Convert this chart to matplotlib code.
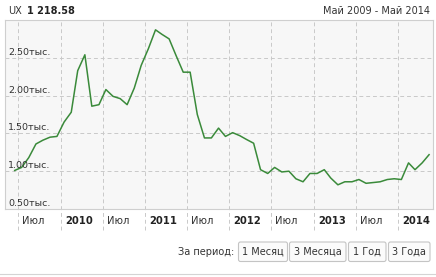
import datetime

import numpy as np
import matplotlib
matplotlib.use('Agg')
import matplotlib.pyplot as plt
import matplotlib.dates as mdates
from matplotlib.patches import FancyBboxPatch

# monthly closes, Jun 2009 .. May 2014 (points)
months = [datetime.date(2009 + (5 + i) // 12, (5 + i) % 12 + 1, 15) for i in range(60)]
closes = [1010, 1050, 1180, 1360, 1410, 1450, 1460, 1650, 1780, 2330,
          2540, 1860, 1880, 2080, 1990, 1960, 1880, 2100, 2400, 2620,
          2870, 2810, 2750, 2530, 2310, 2310, 1750, 1440, 1440, 1570,
          1460, 1510, 1470, 1420, 1370, 1020, 970, 1050, 990, 1000,
          900, 860, 970, 970, 1020, 910, 820, 860, 860, 890,
          840, 850, 860, 890, 900, 890, 1110, 1020, 1110, 1218.58]
y_ticks = [500, 1000, 1500, 2000, 2500]
x_ticks = [datetime.date(2009, 7, 1), datetime.date(2010, 1, 1), datetime.date(2010, 7, 1),
           datetime.date(2011, 1, 1), datetime.date(2011, 7, 1), datetime.date(2012, 1, 1),
           datetime.date(2012, 7, 1), datetime.date(2013, 1, 1), datetime.date(2013, 7, 1),
           datetime.date(2014, 1, 1)]
x_labels = ['Июл', '2010', 'Июл', '2011', 'Июл', '2012', 'Июл', '2013', 'Июл', '2014']
periods = ['1 Месяц', '3 Месяца', '1 Год', '3 Года']

W, H = 436, 277
txt = '#333333'
grid_c = '#c9c9c9'

fig = plt.figure(figsize=(W / 100, H / 100), dpi=100)
fig.patch.set_facecolor('white')

# main chart, pixel box 5..433 x 20..209
ax = fig.add_axes([5 / W, (H - 209) / H, 428 / W, 189 / H])
ax.set_facecolor('#f7f7f7')
ax.plot(months, [c / 1000 for c in closes], color='#3a8a3a', lw=1.1, zorder=3)
ax.set_ylim(0.5, 3.0)
ax.set_xlim(datetime.date(2009, 5, 4), datetime.date(2014, 6, 1))
ax.set_xticks([])
ax.set_yticks([])
for s in ax.spines.values():
    s.set_color('#cfcfcf')
    s.set_linewidth(0.8)

for v in y_ticks:
    if v > 500:
        ax.axhline(v / 1000, color=grid_c, lw=0.7, ls=(0, (4, 3)), zorder=1)
    ax.annotate('%.2fтыс.' % (v / 1000), xy=(0, v / 1000), xycoords=('axes fraction', 'data'),
                xytext=(3, 5.5), textcoords='offset pixels', ha='left', va='center',
                fontsize=6.8, color=txt, zorder=4)

for d, lab in zip(x_ticks, x_labels):
    ax.axvline(d, ymin=-0.112, ymax=1, color=grid_c, lw=0.7, ls=(0, (4, 3)),
               clip_on=False, zorder=1)
    bold = lab != 'Июл'
    ax.annotate(lab, xy=(d, 0), xycoords=('data', 'axes fraction'),
                xytext=(4, -12), textcoords='offset pixels', ha='left', va='center',
                fontsize=7.2, color='#222222' if bold else txt,
                fontweight='bold' if bold else 'normal')

# overlay in pixel coordinates for header and buttons
ov = fig.add_axes([0, 0, 1, 1], zorder=-1)
ov.set_xlim(0, W)
ov.set_ylim(H, 0)
ov.axis('off')

ov.text(8, 11.5, 'UX', fontsize=7, color=txt, ha='left', va='center')
ov.text(27, 11.5, '1 218.58', fontsize=7, color='#222222', fontweight='bold', ha='left', va='center')
ov.text(430, 11.5, 'Май 2009 - Май 2014', fontsize=7, color=txt, ha='right', va='center')

ov.text(234, 252, 'За период:', fontsize=7, color=txt, ha='right', va='center')
boxes = [(238.5, 287.5), (289.5, 346), (348.5, 386), (388.5, 430)]
for (x0, x1), lab in zip(boxes, periods):
    p = FancyBboxPatch((x0 + 1.5, 243.5), x1 - x0 - 3, 16.5, boxstyle='round,pad=1.5,rounding_size=2',
                       fc='#fbfbfb', ec='#c4c4c4', lw=0.8)
    ov.add_patch(p)
    ov.text((x0 + x1) / 2, 252, lab, fontsize=7, color=txt, ha='center', va='center')

ov.plot([0, W], [273.5, 273.5], color='#d4d4d4', lw=0.8)

fig.savefig('out.png', dpi=100)
